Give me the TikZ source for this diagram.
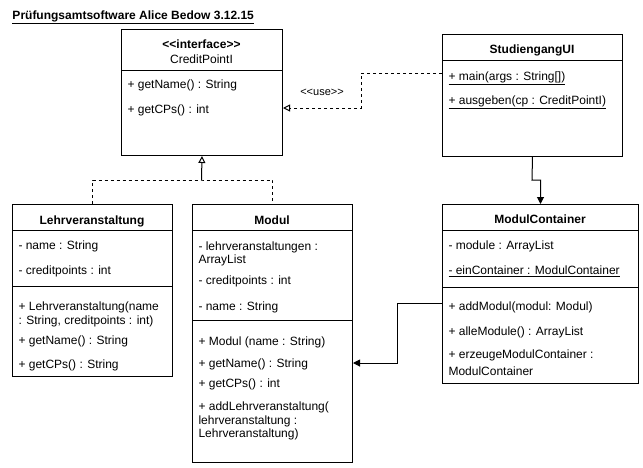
\documentclass[tikz,border=0pt]{standalone}
\usepackage{fontspec}
\setmainfont{Liberation Sans}
\usetikzlibrary{arrows.meta}
\newcommand{\lguil}{<\kern0pt<}
\newcommand{\rguil}{>\kern0pt>}
\begin{document}
\begin{tikzpicture}[x=1pt,y=-1pt,line width=1pt,
  box/.style={draw,line width=1pt,inner sep=0pt,anchor=north west},
  txt/.style={anchor=base west,inner sep=0pt,font=\fontsize{12}{14}\selectfont},
  ttl/.style={anchor=base,inner sep=0pt,font=\fontsize{12}{14}\selectfont\bfseries},
  ttlr/.style={anchor=base,inner sep=0pt,font=\fontsize{12}{14}\selectfont},
  lbl/.style={anchor=center,inner sep=0pt,font=\fontsize{11}{13}\selectfont},
  dashline/.style={dash pattern=on 3pt off 3pt},
  openarr/.style={-{Triangle[open,length=7pt,width=7pt,line width=1pt]}},
  fillarr/.style={-{Triangle[length=7pt,width=7pt]}}]
\useasboundingbox (0,0) rectangle (643,467);

% title
\node[txt,font=\fontsize{12}{14}\selectfont\bfseries] (title) at (12,19.5) {\underline{Prüfungsamtsoftware Alice Bedow 3.12.15}};

% CreditPointI
\node[box,minimum width=161pt,minimum height=126pt] (cp) at (121,29) {};
\draw (121,70) -- (282,70);
\node[ttl] (cpst) at (201.5,48.5) {\lguil interface\rguil};
\node[ttlr] (cpn) at (201.5,63) {CreditPointI};
\node[txt] (cp1) at (127,88) {+ getName() : String};
\node[txt] (cp2) at (127,113) {+ getCPs() : int};

% StudiengangUI
\node[box,minimum width=180pt,minimum height=122pt] (sui) at (442,34) {};
\draw (442,60) -- (622,60);
\node[ttl] (suin) at (532,53) {StudiengangUI};
\node[txt] (sui1) at (448,80) {\underline{+ main(args : String[])}};
\node[txt] (sui2) at (448,104) {\underline{+ ausgeben(cp : CreditPointI)}};

% Lehrveranstaltung
\node[box,minimum width=160pt,minimum height=172pt] (lv) at (12,204) {};
\draw (12,230) -- (172,230);
\draw (12,286) -- (172,286);
\node[ttl] (lvn) at (92,224) {Lehrveranstaltung};
\node[txt] (lv1) at (18,249.5) {- name : String};
\node[txt] (lv2) at (18,274) {- creditpoints : int};
\node[txt] (lv3) at (18,310.5) {+ Lehrveranstaltung(name};
\node[txt] (lv4) at (18,324.5) {: String, creditpoints : int)};
\node[txt] (lv5) at (18,344) {+ getName() : String};
\node[txt] (lv6) at (18,368) {+ getCPs() : String};

% Modul
\node[box,minimum width=160pt,minimum height=258pt] (mod) at (192,204) {};
\draw (192,230) -- (352,230);
\draw (192,320) -- (352,320);
\node[ttl] (modn) at (272,224) {Modul};
\node[txt] (mod1) at (198,250) {- lehrveranstaltungen :};
\node[txt] (mod2) at (198,263) {ArrayList};
\node[txt] (mod3) at (198,284) {- creditpoints : int};
\node[txt] (mod4) at (198,310) {- name : String};
\node[txt] (mod5) at (198,345.5) {+ Modul (name : String)};
\node[txt] (mod6) at (198,367) {+ getName() : String};
\node[txt] (mod7) at (198,387) {+ getCPs() : int};
\node[txt] (mod8) at (198,410.5) {+ addLehrveranstaltung(};
\node[txt] (mod9) at (198,424) {lehrveranstaltung :};
\node[txt] (mod10) at (198,437) {Lehrveranstaltung)};

% ModulContainer
\node[box,minimum width=196pt,minimum height=179pt] (mc) at (442,204) {};
\draw (442,230) -- (638,230);
\draw (442,287) -- (638,287);
\node[ttl] (mcn) at (540,223.5) {ModulContainer};
\node[txt] (mc1) at (448,249) {- module : ArrayList};
\node[txt] (mc2) at (448,274.5) {\underline{- einContainer : ModulContainer}};
\node[txt] (mc3) at (448,310) {+ addModul(modul: Modul)};
\node[txt] (mc4) at (448,335) {+ alleModule() : ArrayList};
\node[txt] (mc5) at (448,358) {+ erzeugeModulContainer :};
\node[txt] (mc6) at (448,375) {ModulContainer};

% realization (dashed) to CreditPointI
\coordinate (j) at (201.5,180);
\draw[dashline] (lv.north) |- (j) -| (mod.north);
\draw[openarr] (j) -- (cp.south);

% use dependency
\coordinate (u1) at (361,73);
\coordinate (u2) at (361,108);
\draw[dashline,openarr] (sui.west |- u1) -- (u1) -- (u2) -- (cp.east |- u2);
\node[lbl] (use) at (322,92) {\lguil use\rguil};

% StudiengangUI -> ModulContainer
\coordinate (s1) at (532,180);
\draw[fillarr] (sui.south) -- (s1) -| (mc.north);

% ModulContainer -> Modul
\coordinate (m1) at (397,303);
\coordinate (m2) at (397,363);
\draw[fillarr] (mc.west |- m1) -- (m1) -- (m2) -- (mod.east |- m2);
\end{tikzpicture}
\end{document}
